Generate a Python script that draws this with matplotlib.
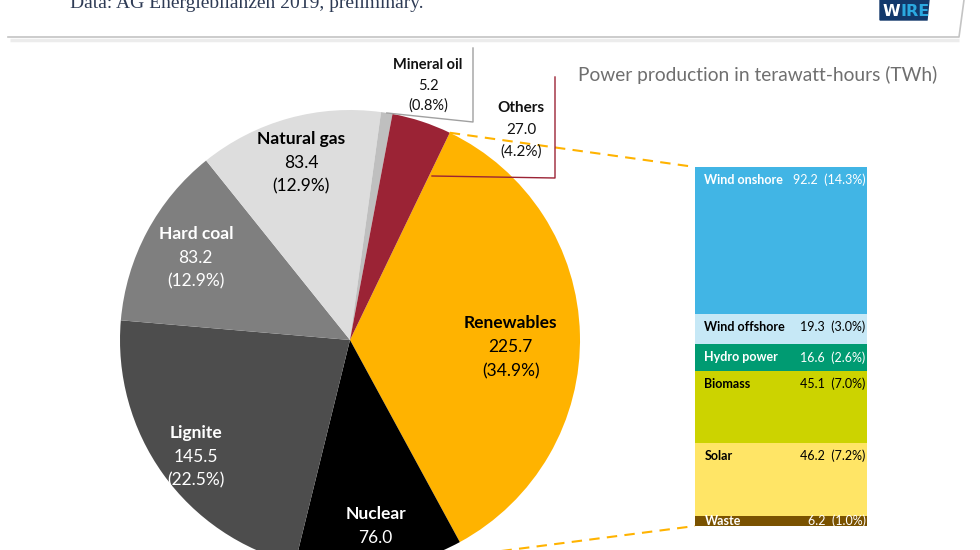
import matplotlib
matplotlib.use("Agg")
import matplotlib.pyplot as plt
from matplotlib.patches import Polygon
import numpy as np

plt.rcParams['font.family'] = ['Lato', 'DejaVu Sans']

# power production 2019 in TWh
sources = ['Renewables', 'Nuclear', 'Lignite', 'Hard coal', 'Natural gas', 'Mineral oil', 'Others']
twh = [225.7, 76.0, 145.5, 83.2, 83.4, 5.2, 27.0]
pie_colors = ['#FFB300', '#000000', '#4D4D4D', '#7F7F7F', '#DDDDDD', '#BFBFBF', '#9B2335']

# renewables breakdown, bottom to top
renew_sources = ['Waste', 'Solar', 'Biomass', 'Hydro power', 'Wind offshore', 'Wind onshore']
renew_twh = [6.2, 46.2, 45.1, 16.6, 19.3, 92.2]
renew_colors = ['#7A5200', '#FFE566', '#CCD300', '#009B72', '#C6E8F6', '#41B5E5']
renew_text = ['white', 'black', 'black', 'white', 'black', 'white']

total = sum(twh)

W, H = 980, 550
CX, CY, R = 350, 340, 230

fig = plt.figure(figsize=(9.8, 5.5), dpi=100)
fig.patch.set_facecolor('white')

# pie
ax_pie = fig.add_axes([(CX - R) / W, (H - CY - R) / H, 2 * R / W, 2 * R / H])
wedges, _ = ax_pie.pie(twh, colors=pie_colors, startangle=64.3, counterclock=False,
                       radius=1, wedgeprops=dict(linewidth=0))
ax_pie.set_xlim(-1, 1)
ax_pie.set_ylim(-1, 1)
ax_pie.axis('off')

label_r = [0.70, 0.87, 0.84, 0.76, 0.80]
label_nudge = [-4, 0, 1.5, 0, 0]
label_col = ['black', 'white', 'white', 'white', 'black']
for i in range(5):
    w = wedges[i]
    mid = np.deg2rad((w.theta1 + w.theta2) / 2 + label_nudge[i])
    x, y = label_r[i] * np.cos(mid), label_r[i] * np.sin(mid)
    c = label_col[i]
    ax_pie.annotate(sources[i], (x, y), xytext=(0, 17.3), textcoords='offset points',
                    ha='center', va='center', fontsize=12.5, fontweight='bold', color=c)
    ax_pie.annotate(f"{twh[i]:.1f}", (x, y), ha='center', va='center', fontsize=12.5, color=c)
    ax_pie.annotate(f"({twh[i] / total * 100:.1f}%)", (x, y), xytext=(0, -17.3),
                    textcoords='offset points', ha='center', va='center', fontsize=12.5, color=c)

# renewables bar
bar_top, bar_bot = 167, 526
ax_bar = fig.add_axes([695 / W, (H - bar_bot) / H, 172 / W, (bar_bot - bar_top) / H])
bottoms = np.cumsum([0] + renew_twh[:-1])
ax_bar.bar([0] * len(renew_twh), renew_twh, bottom=bottoms, width=1,
           color=renew_colors, linewidth=0)
ax_bar.set_xlim(-0.5, 0.5)
ax_bar.set_ylim(0, sum(renew_twh))
ax_bar.axis('off')

px_per_twh = (bar_bot - bar_top) / sum(renew_twh)
for name, v, b, c in zip(renew_sources, renew_twh, bottoms, renew_text):
    top = b + v
    off = min(13, v * px_per_twh / 2) * 0.72
    ax_bar.annotate(name, (-0.5, top), xytext=(6.8, -off), textcoords='offset points',
                    ha='left', va='center', fontsize=9, fontweight='bold', color=c, clip_on=True)
    ax_bar.annotate(f"{v:.1f}  ({v / total * 100:.1f}%)", (0.5, top), xytext=(-1, -off),
                    textcoords='offset points', ha='right', va='center', fontsize=9,
                    color=c, clip_on=True)

# overlay in pixel coordinates
ax = fig.add_axes([0, 0, 1, 1])
ax.set_xlim(0, W)
ax.set_ylim(H, 0)
ax.axis('off')
ax.patch.set_alpha(0)

# header box
ax.plot([10, 959], [40, 40], color='#ececec', lw=2.5, solid_capstyle='butt')
ax.plot([8, 959, 964], [37, 37, 0], color='#c4c4c4', lw=1.2)
ax.text(70, 8, 'Data: AG Energiebilanzen 2019, preliminary.', family=['Liberation Serif', 'DejaVu Serif'],
        fontsize=14, color='#2E3B55', va='baseline', ha='left')
ax.add_patch(Polygon([[880, 0], [929, 0], [927, 20], [880, 20]], closed=True, color='#12386B'))
t_w = ax.text(883, 11, 'W', family=['Liberation Sans Narrow', 'DejaVu Sans'], fontweight='bold',
              fontsize=11.5, color='white', va='center', ha='left')
ax.annotate('IRE', xy=(1, 0.5), xycoords=t_w, family=['Liberation Sans Narrow', 'DejaVu Sans'],
            fontweight='bold', fontsize=11.5, color='#2BA8E0', va='center', ha='left')

ax.text(578, 75, 'Power production in terawatt-hours (TWh)', fontsize=13.8, color='#6f6f6f',
        va='center', ha='left')

# connectors from renewables slice to bar
dash = dict(color='#FFB300', lw=1.5, dashes=(5, 3.5))
w0 = wedges[0]
a_top = np.deg2rad(w0.theta2)
ax.plot([CX + R * np.cos(a_top), 695], [CY - R * np.sin(a_top), bar_top], **dash)
ax.plot([455, 695], [557, bar_bot], **dash)

# mineral oil callout
m = wedges[5]
a_m = np.deg2rad((m.theta1 + m.theta2) / 2)
ax.plot([473, 473, CX + R * np.cos(a_m)], [48, 122, CY - R * np.sin(a_m)], color='#A0A0A0', lw=1)
for dy, s, fw in [(65, sources[5], 'bold'), (86, f"{twh[5]:.1f}", 'normal'),
                  (106, f"({twh[5] / total * 100:.1f}%)", 'normal')]:
    ax.text(428, dy, s, ha='center', va='center', fontsize=10.5, fontweight=fw, color='#111111')

# others callout
ax.plot([555, 555, 432], [77, 178, 176], color='#9B2335', lw=1)
for dy, s, fw in [(108, sources[6], 'bold'), (130, f"{twh[6]:.1f}", 'normal'),
                  (152, f"({twh[6] / total * 100:.1f}%)", 'normal')]:
    ax.text(521, dy, s, ha='center', va='center', fontsize=11, fontweight=fw, color='#111111')

fig.savefig('out.png', dpi=100, facecolor='white')
